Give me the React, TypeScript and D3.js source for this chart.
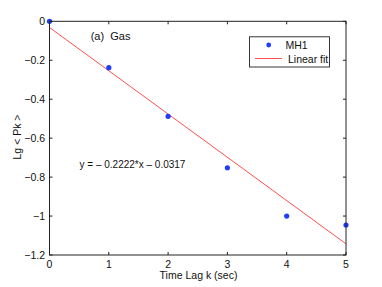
import React from "react";
import * as d3 from "d3";

const lags = [0, 1, 2, 3, 4, 5];
const mh1 = [0, -0.238, -0.488, -0.752, -1.0, -1.046];
const slope = -0.2222;
const intercept = -0.0317;
const xTicks = [0, 1, 2, 3, 4, 5];
const yTicks = [0, -0.2, -0.4, -0.6, -0.8, -1, -1.2];

const W = 382, H = 287;
const L = 49.5, R = 346, T = 21.3, B = 255;
const font = "'Liberation Sans', Arial, Helvetica, sans-serif";

export default function App() {
  const x = d3.scaleLinear().domain([0, 5]).range([L, R]);
  const y = d3.scaleLinear().domain([-1.2, 0]).range([B, T]);
  const fitLine = d3.line<number>().x(d => x(d)).y(d => y(slope * d + intercept));
  const fmt = (v: number) => (v === 0 ? "0" : (v < 0 ? "\u2212" : "") + String(Math.abs(v)));
  return (
    <svg width={W} height={H} style={{ position: "absolute", left: 0, top: 0, background: "#fff" }} fontFamily={font}>
      <rect x={0} y={0} width={W} height={H} fill="#fff" />
      <path d={fitLine([0, 5]) || ""} stroke="#ff3b3b" strokeWidth={0.9} fill="none" />
      {lags.map((k, i) => (
        <circle key={i} cx={x(k)} cy={y(mh1[i])} r={2.6} fill="#1f3dff" />
      ))}
      <rect x={L} y={T} width={R - L} height={B - T} fill="none" stroke="#222" strokeWidth={1} />
      {xTicks.map(t => (
        <g key={"x" + t}>
          <line x1={x(t)} x2={x(t)} y1={B} y2={B - 3} stroke="#222" />
          <line x1={x(t)} x2={x(t)} y1={T} y2={T + 3} stroke="#222" />
          <text x={x(t)} y={267.5} fontSize={10.5} textAnchor="middle" fill="#111">{t}</text>
        </g>
      ))}
      {yTicks.map(t => (
        <g key={"y" + t}>
          <line x1={L} x2={L + 3} y1={y(t)} y2={y(t)} stroke="#222" />
          <line x1={R} x2={R - 3} y1={y(t)} y2={y(t)} stroke="#222" />
          <text x={45} y={y(t) + 3.8} fontSize={10.5} textAnchor="end" fill="#111">{fmt(t)}</text>
        </g>
      ))}
      <text x={198.5} y={279} fontSize={10.5} textAnchor="middle" fill="#111">Time Lag k (sec)</text>
      <text transform={`translate(20.5,137) rotate(-90)`} fontSize={10.5} textAnchor="middle" fill="#111">Lg &lt; Pk &gt;</text>
      <text x={90.7} y={40} fontSize={11} fill="#111" xmlSpace="preserve">(a)  Gas</text>
      <text x={79.5} y={168} fontSize={10} fill="#111">y = – 0.2222*x – 0.0317</text>
      <rect x={249.5} y={36.8} width={80} height={30.2} fill="#fff" stroke="#222" strokeWidth={0.9} />
      <circle cx={268.7} cy={45} r={2.4} fill="#1f3dff" />
      <text x={285.5} y={49} fontSize={10.5} fill="#111">MH1</text>
      <line x1={255} x2={282} y1={58.5} y2={58.5} stroke="#ff3b3b" strokeWidth={0.9} />
      <text x={288} y={62.5} fontSize={10.5} fill="#111">Linear fit</text>
    </svg>
  );
}
